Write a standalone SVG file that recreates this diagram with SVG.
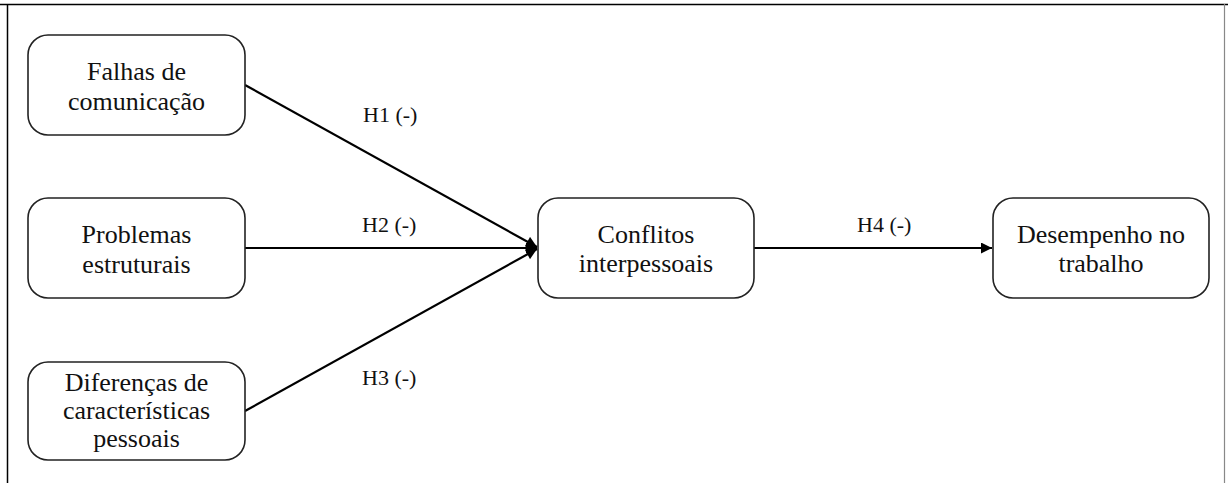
<svg xmlns="http://www.w3.org/2000/svg" width="1228" height="483" viewBox="0 0 1228 483">
<style>
.box{fill:#fff;stroke:#222;stroke-width:1.6}
.t{font-family:'Liberation Serif','Times New Roman',serif;font-size:26px;fill:#111;text-anchor:middle}
.lbl{font-family:'Liberation Serif','Times New Roman',serif;font-size:22px;fill:#111}
.con{stroke:#000;stroke-width:2.2;fill:none}
</style>
<defs>
<marker id="ah" viewBox="0 0 10 10" refX="10" refY="5" markerWidth="5.5" markerHeight="5" markerUnits="strokeWidth" orient="auto">
<path d="M0,0 L10,5 L0,10 z" fill="#000"/>
</marker>
</defs>
<rect width="1228" height="483" fill="#fff"/>
<g id="frame" fill="none">
<line x1="0" y1="4.5" x2="1228" y2="4.5" stroke="#000" stroke-width="1.5"/>
<line x1="7.5" y1="4" x2="7.5" y2="483" stroke="#000" stroke-width="1.5"/>
<line x1="1224.5" y1="4" x2="1224.5" y2="483" stroke="#888" stroke-width="1.2"/>
</g>
<g id="connectors">
<line class="con" x1="245" y1="85" x2="537" y2="247" marker-end="url(#ah)"/>
<line class="con" x1="245" y1="248" x2="537" y2="248" marker-end="url(#ah)"/>
<line class="con" x1="245" y1="411" x2="537" y2="249" marker-end="url(#ah)"/>
<line class="con" x1="754" y1="248" x2="992" y2="248" marker-end="url(#ah)"/>
<text class="lbl" x="363" y="122">H1 (-)</text>
<text class="lbl" x="362" y="232">H2 (-)</text>
<text class="lbl" x="362" y="385">H3 (-)</text>
<text class="lbl" x="857" y="232">H4 (-)</text>
</g>
<g id="n1">
<rect class="box" x="28" y="35" width="217" height="100" rx="20"/>
<text class="t" x="136.5" y="80">Falhas de</text>
<text class="t" x="136.5" y="110">comunicação</text>
</g>
<g id="n2">
<rect class="box" x="28" y="198" width="217" height="100" rx="20"/>
<text class="t" x="136.5" y="243">Problemas</text>
<text class="t" x="136.5" y="273">estruturais</text>
</g>
<g id="n3">
<rect class="box" x="28" y="362" width="217" height="98" rx="20"/>
<text class="t" x="136.5" y="391">Diferenças de</text>
<text class="t" x="136.5" y="419">características</text>
<text class="t" x="136.5" y="447">pessoais</text>
</g>
<g id="n4">
<rect class="box" x="538" y="198" width="216" height="100" rx="20"/>
<text class="t" x="646" y="243">Conflitos</text>
<text class="t" x="646" y="272">interpessoais</text>
</g>
<g id="n5">
<rect class="box" x="993" y="198" width="216" height="100" rx="20"/>
<text class="t" x="1101" y="243">Desempenho no</text>
<text class="t" x="1101" y="272">trabalho</text>
</g>
</svg>
